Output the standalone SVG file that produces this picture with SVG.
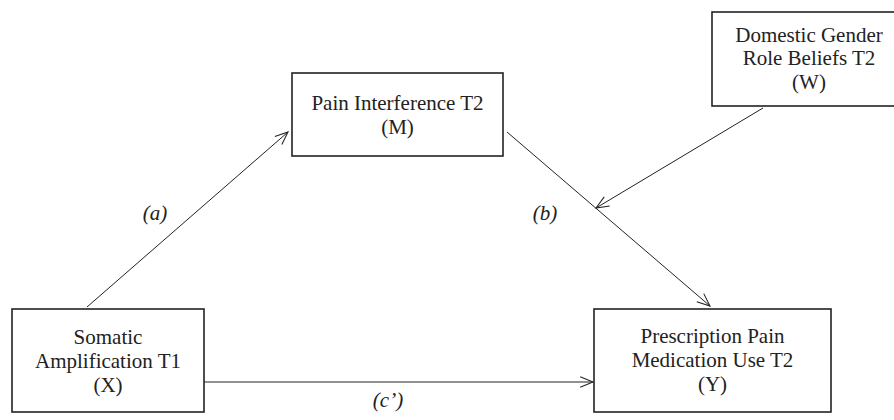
<svg xmlns="http://www.w3.org/2000/svg" width="894" height="420" viewBox="0 0 894 420">
<defs>
<style>
.box{fill:#fff;stroke:#222;stroke-width:1.6}
.t{font-family:"Liberation Serif","Times New Roman",serif;font-size:21px;fill:#222;text-anchor:middle}
.lbl{font-family:"Liberation Serif","Times New Roman",serif;font-size:21px;font-style:italic;fill:#222;text-anchor:middle}
.c{stroke:#222;stroke-width:1;fill:none;marker-end:url(#ah)}
</style>
<marker id="ah" markerUnits="userSpaceOnUse" markerWidth="16" markerHeight="16" viewBox="-13 -7 15 14" refX="0" refY="0" orient="auto">
<path d="M-12,-5 L0,0 L-12,5" fill="none" stroke="#222" stroke-width="1"/>
</marker>
</defs>
<rect width="894" height="420" fill="#fff"/>
<g id="connectors">
<line class="c" x1="87" y1="307" x2="288" y2="132"/>
<line class="c" x1="507" y1="132" x2="710" y2="306"/>
<line class="c" x1="763" y1="108" x2="596" y2="208"/>
<line class="c" x1="204" y1="382" x2="593" y2="382"/>
</g>
<g id="labels">
<text class="lbl" x="155" y="220">(a)</text>
<text class="lbl" x="545" y="220">(b)</text>
<text class="lbl" x="388" y="407">(c’)</text>
</g>
<g id="X">
<rect class="box" x="12" y="309" width="192" height="103"/>
<text class="t" x="108" y="344">Somatic</text>
<text class="t" x="108" y="368">Amplification T1</text>
<text class="t" x="108" y="392">(X)</text>
</g>
<g id="M">
<rect class="box" x="292" y="73" width="211" height="83"/>
<text class="t" x="397.5" y="110">Pain Interference T2</text>
<text class="t" x="397.5" y="134">(M)</text>
</g>
<g id="Y">
<rect class="box" x="594" y="309" width="237" height="103"/>
<text class="t" x="712.5" y="343">Prescription Pain</text>
<text class="t" x="712.5" y="367">Medication Use T2</text>
<text class="t" x="712.5" y="391">(Y)</text>
</g>
<g id="W">
<rect class="box" x="712" y="12" width="194" height="94"/>
<text class="t" x="809" y="42">Domestic Gender</text>
<text class="t" x="809" y="65">Role Beliefs T2</text>
<text class="t" x="809" y="89">(W)</text>
</g>
</svg>
